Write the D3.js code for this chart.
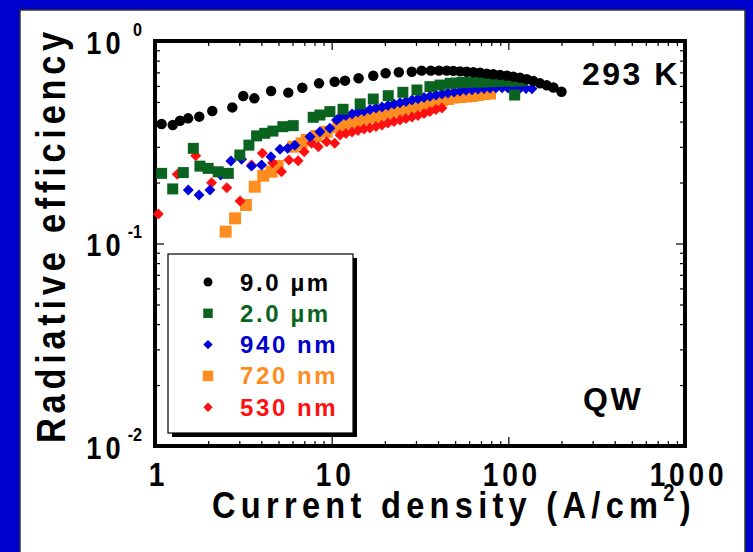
<!DOCTYPE html>
<html>
<head>
<meta charset="utf-8">
<script src="https://cdn.jsdelivr.net/npm/d3@7"></script>
<style>
  html, body { margin: 0; padding: 0; background: #0000cc; }
  svg { display: block; }
  text { font-family: "Liberation Sans", Arial, Helvetica, sans-serif; font-weight: bold; }
</style>
</head>
<body>
<svg id="chart" width="753" height="552"></svg>
<script>
// Radiative efficiency vs current density, quantum wells, 293 K

// 9.0 µm device
const j90um = [1.09, 1.26, 1.385, 1.54, 1.78, 2.11, 2.74, 3.16, 3.65, 4.54, 5.68, 6.82, 8.48, 10.4, 11.9,
  14.2, 17.2, 20.2, 24.0, 28.4, 32.3, 36.4, 40.5, 44.8, 48.8, 53.3, 58.1, 63.3, 69.1, 75.4, 82.2,
  89.7, 97.9, 106.7, 116.4, 127, 138.5, 151, 165, 180, 200];
const eff90um = [0.389, 0.385, 0.404, 0.415, 0.423, 0.451, 0.470, 0.535, 0.521, 0.566, 0.556, 0.588, 0.618, 0.629, 0.637,
  0.655, 0.674, 0.693, 0.701, 0.705, 0.714, 0.714, 0.714, 0.714, 0.712, 0.708, 0.705, 0.701, 0.697, 0.690, 0.685,
  0.680, 0.674, 0.667, 0.659, 0.647, 0.634, 0.618, 0.604, 0.589, 0.562];

// 2.0 µm device
const j20um = [1.09, 1.26, 1.446, 1.648, 1.796, 2.0, 2.28, 2.6, 3.02, 3.40, 3.76, 4.18, 4.65, 5.29, 6.06,
  7.86, 8.58, 9.77, 11.6, 14.5, 17.2, 20.9, 25.3, 30.4, 36.0, 41.1, 46.9, 50.5, 54.66, 59.1, 63.9,
  69.1, 74.7, 80.8, 87.4, 94.5, 102.2, 108.6, 110.5, 119.5];
const eff20um = [0.222, 0.186, 0.224, 0.295, 0.241, 0.235, 0.226, 0.222, 0.2735, 0.306, 0.340, 0.350, 0.359, 0.3775, 0.382,
  0.420, 0.431, 0.448, 0.460, 0.489, 0.517, 0.537, 0.558, 0.573, 0.595, 0.606, 0.618, 0.620, 0.624, 0.625, 0.627,
  0.627, 0.629, 0.631, 0.6325, 0.634, 0.634, 0.541, 0.635, 0.636];

// 940 nm device
const j940nm = [1.543, 1.775, 2.046, 2.355, 2.69, 3.09, 3.52, 4.01, 4.53, 5.1, 5.63, 6.19, 7.54, 8.58, 9.77, 10.66,
  11.15, 12.05, 13.04, 14.09, 15.24, 16.48, 17.82, 19.27, 20.84, 22.53, 24.37, 26.34, 28.49, 30.8, 33.31,
  36.02, 38.95, 42.11, 45.54, 49.25, 53.25, 57.59, 62.27, 67.33, 72.81, 78.74, 85.14, 92.07, 99.55,
  107.6, 116.4, 125.9, 136.1];
const eff940nm = [0.1837, 0.1736, 0.1837, 0.218, 0.2555, 0.2605, 0.241, 0.244, 0.268, 0.292, 0.295, 0.306, 0.337, 0.3565, 0.3705, 0.4073,
  0.420, 0.4287, 0.436, 0.446, 0.4511, 0.4589, 0.4667, 0.4721, 0.4802, 0.4884, 0.4959, 0.5028, 0.5112, 0.5189, 0.526,
  0.5331, 0.5411, 0.5472, 0.5535, 0.5598, 0.5662, 0.5707, 0.5746, 0.5794, 0.5826, 0.586, 0.5881, 0.5881, 0.586,
  0.586, 0.584, 0.5826, 0.5813];

// 720 nm device
const j720nm = [2.51, 2.84, 3.27, 3.67, 4.1, 4.57, 4.95, 6.07, 6.76, 7.21, 8.22, 9.36, 10.9,
  11.15, 12.05, 13.04, 14.09, 15.24, 16.48, 17.82, 19.27, 20.84, 22.53, 24.37, 26.34, 28.49, 30.8, 33.31,
  36.02, 38.95, 42.11, 45.54, 49.25, 53.25, 57.59, 62.27, 67.33, 72.81, 78.74];
const eff720nm = [0.1144, 0.1331, 0.155, 0.1908, 0.2162, 0.2262, 0.2414, 0.3006, 0.3125, 0.3244, 0.3396, 0.3565, 0.3748,
  0.3848, 0.3914, 0.3981, 0.4027, 0.4120, 0.4191, 0.4238, 0.4336, 0.4411, 0.4511, 0.4563, 0.4667, 0.4721, 0.4829, 0.4884,
  0.4940, 0.5054, 0.5112, 0.5170, 0.5258, 0.5288, 0.5319, 0.5349, 0.5411, 0.5472, 0.5503];

// 530 nm device
const j530nm = [1.044, 1.337, 1.7, 2.09, 2.55, 3.03, 3.52, 4.05, 4.63, 5.2, 5.73, 6.46, 6.99, 7.7, 8.4, 9.37, 10.4,
  11.15, 12.05, 13.04, 14.09, 15.24, 16.48, 17.82, 19.27, 20.84, 22.53, 24.37, 26.34, 28.49, 30.8, 33.31,
  36.02, 38.95, 42.11];
const eff530nm = [0.1398, 0.2196, 0.2714, 0.1996, 0.1887, 0.1622, 0.2441, 0.2789, 0.2506, 0.2262, 0.2585, 0.2564, 0.2841, 0.3125, 0.3006, 0.3183, 0.3125,
  0.3435, 0.3494, 0.3554, 0.3614, 0.3677, 0.3719, 0.3783, 0.3848, 0.3937, 0.4004, 0.4073, 0.4143, 0.4214, 0.4287, 0.4385,
  0.4486, 0.4589, 0.4667];

const seriesNames = ["9.0 \u00b5m", "2.0 \u00b5m", "940 nm", "720 nm", "530 nm"];
const seriesColors = ["#000000", "#0a6420", "#0000dd", "#ff8c1e", "#ff1010"];
const seriesShapes = ["circle", "square", "diamond", "squareL", "diamond"];

const xMajorTicks = [1, 10, 100, 1000];
const xTickLabels = ["1", "10", "100", "1000"];
const yMajorTicks = [1, 0.1, 0.01];
const yTickExponents = ["0", "-1", "-2"];

const xTitle = "Current density (A/cm";
const yTitle = "Radiative efficiency";
const tempLabel = "293 K";
const sampleLabel = "QW";

const svg = d3.select("#chart");
const W = 753, H = 552;
const NARROW = 0.85; // horizontal squeeze for the condensed tick lettering

// blue slide background with white panel
svg.append("rect").attr("width", W).attr("height", H).attr("fill", "#0000cc");
svg.append("rect").attr("x", 20).attr("y", 10).attr("width", 725).attr("height", H)
  .attr("fill", "#ffffff").attr("stroke", "#333").attr("stroke-width", 1.5);

const plot = { left: 155, right: 685, top: 41, bottom: 446 };
const x = d3.scaleLog().domain([1, 1000]).range([plot.left, plot.right]);
const y = d3.scaleLog().domain([0.01, 1]).range([plot.bottom, plot.top]);

function minorTicks(lo, hi) {
  const out = [];
  for (let d = lo; d < hi; d *= 10) for (let k = 2; k <= 9; k++) out.push(+(k * d).toPrecision(3));
  return out;
}
const xMinor = minorTicks(1, 1000);
const yMinor = minorTicks(0.01, 1);

const tickStyle = g => {
  g.select(".domain").remove();
  g.selectAll(".tick line").attr("stroke", "#000").attr("stroke-width", 1.2);
};

// inward ticks on all four sides
const axes = svg.append("g");
[[d3.axisBottom, x, plot.bottom, true], [d3.axisTop, x, plot.top, true],
 [d3.axisLeft, y, plot.left, false], [d3.axisRight, y, plot.right, false]]
.forEach(([fn, sc, pos, horiz]) => {
  const major = horiz ? xMajorTicks : yMajorTicks;
  const minor = horiz ? xMinor : yMinor;
  const tr = horiz ? `translate(0,${pos})` : `translate(${pos},0)`;
  axes.append("g").attr("transform", tr)
    .call(fn(sc).tickValues(minor).tickSizeInner(-5).tickSizeOuter(0).tickFormat(""))
    .call(tickStyle);
  axes.append("g").attr("transform", tr)
    .call(fn(sc).tickValues(major).tickSizeInner(-9).tickSizeOuter(0).tickFormat(""))
    .call(tickStyle);
});

// x tick labels
const xLab = svg.append("g").attr("transform", `translate(0,${plot.bottom})`)
  .call(d3.axisBottom(x).tickValues(xMajorTicks).tickSize(0).tickPadding(0)
    .tickFormat((d, i) => xTickLabels[i]));
xLab.select(".domain").remove();
xLab.selectAll("text").attr("dy", null).attr("y", 0).attr("x", 0)
  .attr("transform", `translate(3,40) scale(${NARROW},1)`)
  .attr("fill", "#000").style("font-size", "33px").style("font-family", null)
  .style("letter-spacing", "4.5px");

// y tick labels: 10 with superscript exponent
const yLab = svg.append("g").attr("transform", `translate(${plot.left},0)`)
  .call(d3.axisLeft(y).tickValues(yMajorTicks).tickSize(0).tickFormat(""));
yLab.select(".domain").remove();
yLab.selectAll(".tick").each(function(d, i) {
  const g = d3.select(this);
  g.append("text").attr("transform", `translate(-30,12) scale(${NARROW},1)`).attr("text-anchor", "end")
    .attr("fill", "#000").style("font-size", "32px").style("letter-spacing", "5px").text("10");
  g.append("text").attr("transform", `translate(-13,-6) scale(${NARROW},1)`).attr("text-anchor", "end")
    .attr("fill", "#000").style("font-size", "19px").text(yTickExponents[i]);
});

// plot frame
svg.append("rect").attr("x", plot.left).attr("y", plot.top)
  .attr("width", plot.right - plot.left).attr("height", plot.bottom - plot.top)
  .attr("fill", "none").attr("stroke", "#000").attr("stroke-width", 4);

// marker generator
function marker(shape, big) {
  if (big) {
    if (shape === "circle") return { d: d3.symbol(d3.symbolCircle, 86)(), rot: 0 };
    if (shape === "square") return { d: d3.symbol(d3.symbolSquare, 121)(), rot: 0 };
    if (shape === "squareL") return { d: d3.symbol(d3.symbolSquare, 144)(), rot: 0 };
    return { d: d3.symbol(d3.symbolSquare, 60)(), rot: 45 };
  }
  if (shape === "circle") return { d: d3.symbol(d3.symbolCircle, 64)(), rot: 0 };
  if (shape === "square") return { d: d3.symbol(d3.symbolSquare, 90)(), rot: 0 };
  if (shape === "squareL") return { d: d3.symbol(d3.symbolSquare, 110)(), rot: 0 };
  return { d: d3.symbol(d3.symbolSquare, 44)(), rot: 45 };
}

const series = [
  { j: j90um, e: eff90um },
  { j: j20um, e: eff20um },
  { j: j940nm, e: eff940nm },
  { j: j720nm, e: eff720nm },
  { j: j530nm, e: eff530nm }
];

// draw order: orange, red, blue, green, black
const drawOrder = [3, 4, 2, 1, 0];
const marks = svg.append("g");
drawOrder.forEach(si => {
  const s = series[si];
  const m = marker(seriesShapes[si], true);
  marks.append("g").selectAll("path").data(s.j.map((jv, k) => [jv, s.e[k]])).join("path")
    .attr("d", m.d)
    .attr("transform", d => `translate(${x(d[0])},${y(d[1])}) rotate(${m.rot})`)
    .attr("fill", seriesColors[si]);
});

// legend box with drop shadow
const lg = { x: 168, y: 254, w: 185, h: 179 };
svg.append("rect").attr("x", lg.x + 4).attr("y", lg.y + 4).attr("width", lg.w).attr("height", lg.h).attr("fill", "#000");
svg.append("rect").attr("x", lg.x).attr("y", lg.y).attr("width", lg.w).attr("height", lg.h)
  .attr("fill", "#fff").attr("stroke", "#000").attr("stroke-width", 1.2);
const legendRows = svg.append("g").selectAll("g").data(seriesNames).join("g")
  .attr("transform", (d, i) => `translate(0,${282 + i * 31.3})`);
legendRows.append("path")
  .attr("d", (d, i) => marker(seriesShapes[i], false).d)
  .attr("transform", (d, i) => `translate(208,0) rotate(${marker(seriesShapes[i], false).rot})`)
  .attr("fill", (d, i) => seriesColors[i]);
legendRows.append("text").attr("x", 240).attr("y", 8.5)
  .attr("fill", (d, i) => seriesColors[i] === "#0000dd" ? "#0000cc" : seriesColors[i])
  .style("font-size", "24px").style("letter-spacing", "2.6px").text(d => d);

// annotations
svg.append("text").attr("x", 582).attr("y", 85).style("font-size", "32px")
  .style("letter-spacing", "2.5px").attr("fill", "#000").text(tempLabel);
svg.append("text").attr("x", 583).attr("y", 410).style("font-size", "32px")
  .style("letter-spacing", "2.5px").attr("fill", "#000").text(sampleLabel);

// axis titles, stretched with letter spacing to their spans
function fitSpacing(t, target) {
  t.style("letter-spacing", "0px");
  const w = t.node().getComputedTextLength();
  const n = t.text().length;
  t.style("letter-spacing", ((target - w) / n) + "px");
}
const XS = 0.88;
const xt = svg.append("text").attr("transform", `translate(212,518) scale(${XS},1)`)
  .style("font-size", "37px").attr("fill", "#000");
xt.append("tspan").text(xTitle);
xt.append("tspan").attr("dy", -17).style("font-size", "23px").text("2");
xt.append("tspan").attr("dy", 17).text(")");
fitSpacing(xt, 484 / XS);

const YS = 0.86;
const yt = svg.append("text").attr("transform", `translate(65,443) rotate(-90) scale(${YS},1)`)
  .style("font-size", "40px").attr("fill", "#000").text(yTitle);
fitSpacing(yt, 416 / YS);
</script>
</body>
</html>
